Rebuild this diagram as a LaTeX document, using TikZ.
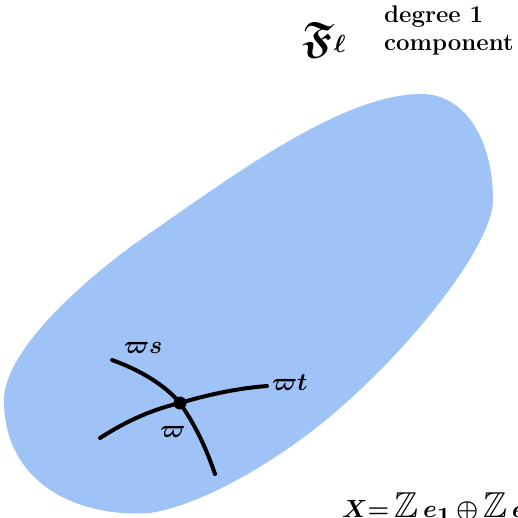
\documentclass[tikz,border=0pt]{standalone}
\usepackage{amssymb}
\definecolor{blob}{RGB}{159,195,247}
\begin{document}
\begin{tikzpicture}[x=1pt,y=-1pt,
  curve/.style={line width=4pt,line cap=round,black},
  lbl/.style={inner sep=0pt,font=\fontsize{27}{29}\selectfont\boldmath}]
\useasboundingbox (0,0) rectangle (518,517);
\clip (0,0) rectangle (518,517);
% component blob
\fill[blob] (420,94) .. controls (465,93) and (493,140) .. (493,200)
  .. controls (493,250) and (390,375) .. (300,440)
  .. controls (260,469) and (200,505) .. (150,513)
  .. controls (80,518) and (4,485) .. (4,400)
  .. controls (4,350) and (86,277) .. (150,233)
  .. controls (230,178) and (340,95) .. (420,94) -- cycle;
% point and curves
\coordinate (w) at (180,403);
\coordinate (s0) at (112,360);
\coordinate (s1) at (215,474);
\coordinate (t0) at (100,438);
\coordinate (t1) at (267,386);
\draw[curve] (s0) .. controls (140,370) and (165,385) .. (w)
  .. controls (195,425) and (205,445) .. (s1);
\draw[curve] (t0) .. controls (125,422) and (150,410) .. (w)
  .. controls (210,394) and (240,388) .. (t1);
\fill (w) circle (6.5);
% labels
\node[lbl,anchor=south west] (ls) at (124,354) {$\varpi s$};
\node[lbl,anchor=west] (lt) at (272,383) {$\varpi t$};
\node[lbl] (lw) at (173,432) {$\varpi$};
\node[inner sep=0pt,font=\fontsize{44}{46}\selectfont\boldmath] (fl) at (324,40) {$\mathfrak{F}\ell$};
\node[inner sep=0pt,anchor=north west,align=left,font=\fontsize{24}{28}\selectfont\bfseries] (deg) at (384,6) {degree 1\\component};
\node[inner sep=0pt,anchor=north west,font=\fontsize{36}{38}\selectfont\boldmath] (X) at (342,492) {$X{=}\,\mathbb{Z}\,e_1\,{\oplus}\,\mathbb{Z}\,e_2$};
\end{tikzpicture}
\end{document}
